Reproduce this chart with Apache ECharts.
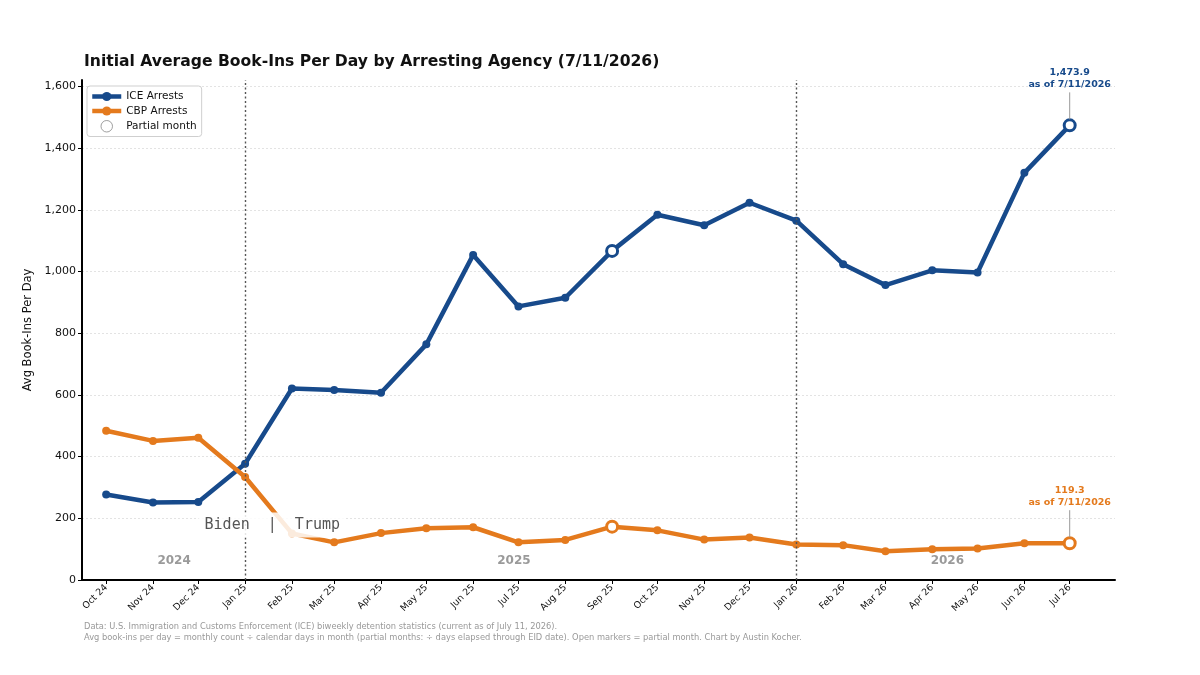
<!DOCTYPE html>
<html>
<head>
<meta charset="utf-8">
<script src="https://cdn.jsdelivr.net/npm/echarts@6/dist/echarts.min.js"></script>
<style>
html,body{margin:0;padding:0;background:#fff;}
#chart{width:1200px;height:675px;}
</style>
</head>
<body>
<div id="chart"></div>
<script>
// ---- Data ----
const months = ['2024-10-01','2024-11-01','2024-12-01','2025-01-01','2025-02-01','2025-03-01','2025-04-01','2025-05-01','2025-06-01','2025-07-01','2025-08-01','2025-09-01','2025-10-01','2025-11-01','2025-12-01','2026-01-01','2026-02-01','2026-03-01','2026-04-01','2026-05-01','2026-06-01','2026-07-01'];
const iceArrests = [277, 251, 253, 377, 621, 616, 607, 764, 1054, 887, 915, 1067, 1184, 1150, 1223, 1165, 1024, 956, 1004, 997, 1320, 1473.9];
const cbpArrests = [484, 451, 461, 334, 151, 122, 152, 168, 171, 122, 130, 173, 161, 131, 138, 115, 113, 93, 100, 102, 119, 119.3];
const partialMonths = ['2025-09-01', '2026-07-01'];
const yearDividers = ['2025-01-01', '2026-01-01'];
const yearLabels = [['2024-11-15', '2024'], ['2025-06-28', '2025'], ['2026-04-11', '2026']];
const monthNames = ['Jan','Feb','Mar','Apr','May','Jun','Jul','Aug','Sep','Oct','Nov','Dec'];
const asOfText = 'as of 7/11/2026';
const eraLabel = ['2025-01-19', 178, 'Biden  |  Trump'];

const ICE_COLOR = '#174a8b';
const CBP_COLOR = '#e47a1d';
const FONT = '"DejaVu Sans", "Noto Sans", sans-serif';

function buildData(values, color) {
  return months.map((m, i) => {
    if (partialMonths.indexOf(m) >= 0) {
      return {
        value: [m, values[i]],
        symbol: 'circle',
        symbolSize: 11,
        itemStyle: { color: '#fff', borderColor: color, borderWidth: 3 }
      };
    }
    return { value: [m, values[i]] };
  });
}

const chart = echarts.init(document.getElementById('chart'), null, { renderer: 'canvas' });

const option = {
  backgroundColor: '#fff',
  animation: false,
  textStyle: { fontFamily: FONT },
  title: {
    text: 'Initial Average Book-Ins Per Day by Arresting Agency (7/11/2026)',
    left: 84, top: 54, padding: 0,
    textStyle: { fontFamily: FONT, fontSize: 15.6, fontWeight: 'bold', color: '#111' }
  },
  legend: {
    orient: 'vertical',
    left: 87, top: 86,
    padding: [5, 5, 4, 3],
    itemGap: 3.5,
    itemWidth: 29,
    itemHeight: 11.5,
    borderColor: '#cfcfcf',
    borderWidth: 1,
    borderRadius: 3,
    backgroundColor: '#fff',
    lineStyle: { width: 4.5 },
    textStyle: { fontFamily: FONT, fontSize: 10.5, color: '#111' },
    data: [
      { name: 'ICE Arrests' },
      { name: 'CBP Arrests' },
      { name: 'Partial month', icon: 'circle', itemStyle: { color: '#fff', borderColor: '#888', borderWidth: 1 } }
    ]
  },
  grid: { left: 82, right: 85, top: 80, bottom: 95, containLabel: false },
  xAxis: {
    type: 'time',
    min: '2024-09-15',
    max: '2026-07-31',
    splitNumber: 22,
    minInterval: 28 * 86400000,
    maxInterval: 31 * 86400000,
    axisLine: { show: true, lineStyle: { color: '#000', width: 2 } },
    axisTick: { show: true, length: 4, lineStyle: { color: '#000', width: 1 } },
    splitLine: { show: false },
    axisLabel: {
      rotate: 45,
      fontSize: 9.3,
      color: '#111',
      margin: 6,
      hideOverlap: false,
      fontFamily: FONT,
      formatter: function (val) {
        const d = new Date(val);
        return monthNames[d.getMonth()] + ' ' + String(d.getFullYear()).slice(2);
      }
    }
  },
  yAxis: {
    type: 'value',
    min: 0,
    max: 1621,
    interval: 200,
    name: 'Avg Book-Ins Per Day',
    nameLocation: 'middle',
    nameGap: 44,
    nameTextStyle: { fontFamily: FONT, fontSize: 11.5, color: '#111' },
    axisLine: { show: true, lineStyle: { color: '#000', width: 2 } },
    axisTick: { show: true, length: 4, lineStyle: { color: '#000', width: 1 } },
    axisLabel: {
      fontSize: 11, color: '#111', margin: 6, fontFamily: FONT,
      showMaxLabel: false,
      formatter: v => v.toLocaleString('en-US')
    },
    splitLine: { show: true, showMaxLine: false, lineStyle: { color: '#dcdcdc', type: [2, 2], width: 0.8 } }
  },
  series: [
    {
      name: 'ICE Arrests',
      type: 'line',
      data: buildData(iceArrests, ICE_COLOR),
      symbol: 'circle',
      symbolSize: 8,
      color: ICE_COLOR,
      lineStyle: { width: 4.5, color: ICE_COLOR },
      itemStyle: { color: ICE_COLOR },
      z: 3,
      markLine: {
        silent: true,
        symbol: 'none',
        label: { show: false },
        lineStyle: { color: '#555', type: [2, 2.5], width: 1.4 },
        data: yearDividers.map(d => ({ xAxis: d }))
      }
    },
    {
      name: 'CBP Arrests',
      type: 'line',
      data: buildData(cbpArrests, CBP_COLOR),
      symbol: 'circle',
      symbolSize: 8,
      color: CBP_COLOR,
      lineStyle: { width: 4.5, color: CBP_COLOR },
      itemStyle: { color: CBP_COLOR },
      z: 3
    },
    {
      name: 'Partial month',
      type: 'scatter',
      data: [],
      itemStyle: { color: '#fff', borderColor: '#888', borderWidth: 1 }
    }
  ]
};

chart.setOption(option);

// ---- Annotations anchored to data coordinates ----
const graphics = [];
function px(date, value) { return chart.convertToPixel({ gridIndex: 0 }, [date, value]); }

function lastAnnotation(values, color) {
  const last = values.length - 1;
  const p = px(months[last], values[last]);
  graphics.push({
    type: 'line', z: 50,
    shape: { x1: p[0], y1: p[1] - 33, x2: p[0], y2: p[1] - 6 },
    style: { stroke: '#999', lineWidth: 1 }
  });
  graphics.push({
    type: 'text', z: 50,
    x: p[0], y: p[1] - 35,
    style: {
      text: values[last].toLocaleString('en-US', { minimumFractionDigits: 1, maximumFractionDigits: 1 }) + '\n' + asOfText,
      textAlign: 'center', textVerticalAlign: 'bottom',
      font: 'bold 9.5px ' + FONT, fill: color, lineHeight: 12
    }
  });
}
lastAnnotation(iceArrests, ICE_COLOR);
lastAnnotation(cbpArrests, CBP_COLOR);

yearLabels.forEach(([d, t]) => {
  const p = px(d, 63);
  graphics.push({
    type: 'text', z: 50, x: p[0], y: p[1],
    style: { text: t, textAlign: 'center', textVerticalAlign: 'middle', font: 'bold 12px ' + FONT, fill: '#9a9a9a' }
  });
});

(function () {
  const p = px(eraLabel[0], eraLabel[1]);
  graphics.push({
    type: 'text', z: 60, x: p[0], y: p[1],
    style: {
      text: eraLabel[2], textAlign: 'center', textVerticalAlign: 'middle',
      font: '15px "DejaVu Sans Mono", "Liberation Mono", monospace', fill: '#555',
      backgroundColor: 'rgba(255,255,255,0.85)', padding: [5, 6, 5, 6]
    }
  });
})();

graphics.push({
  type: 'text', z: 50, x: 84, y: 627,
  style: { text: 'Data: U.S. Immigration and Customs Enforcement (ICE) biweekly detention statistics (current as of July 11, 2026).', textVerticalAlign: 'middle', font: '8.3px ' + FONT, fill: '#999' }
});
graphics.push({
  type: 'text', z: 50, x: 84, y: 638,
  style: { text: 'Avg book-ins per day = monthly count ÷ calendar days in month (partial months: ÷ days elapsed through EID date). Open markers = partial month. Chart by Austin Kocher.', textVerticalAlign: 'middle', font: '8.3px ' + FONT, fill: '#999' }
});

chart.setOption({ graphic: { elements: graphics } });
</script>
</body>
</html>
